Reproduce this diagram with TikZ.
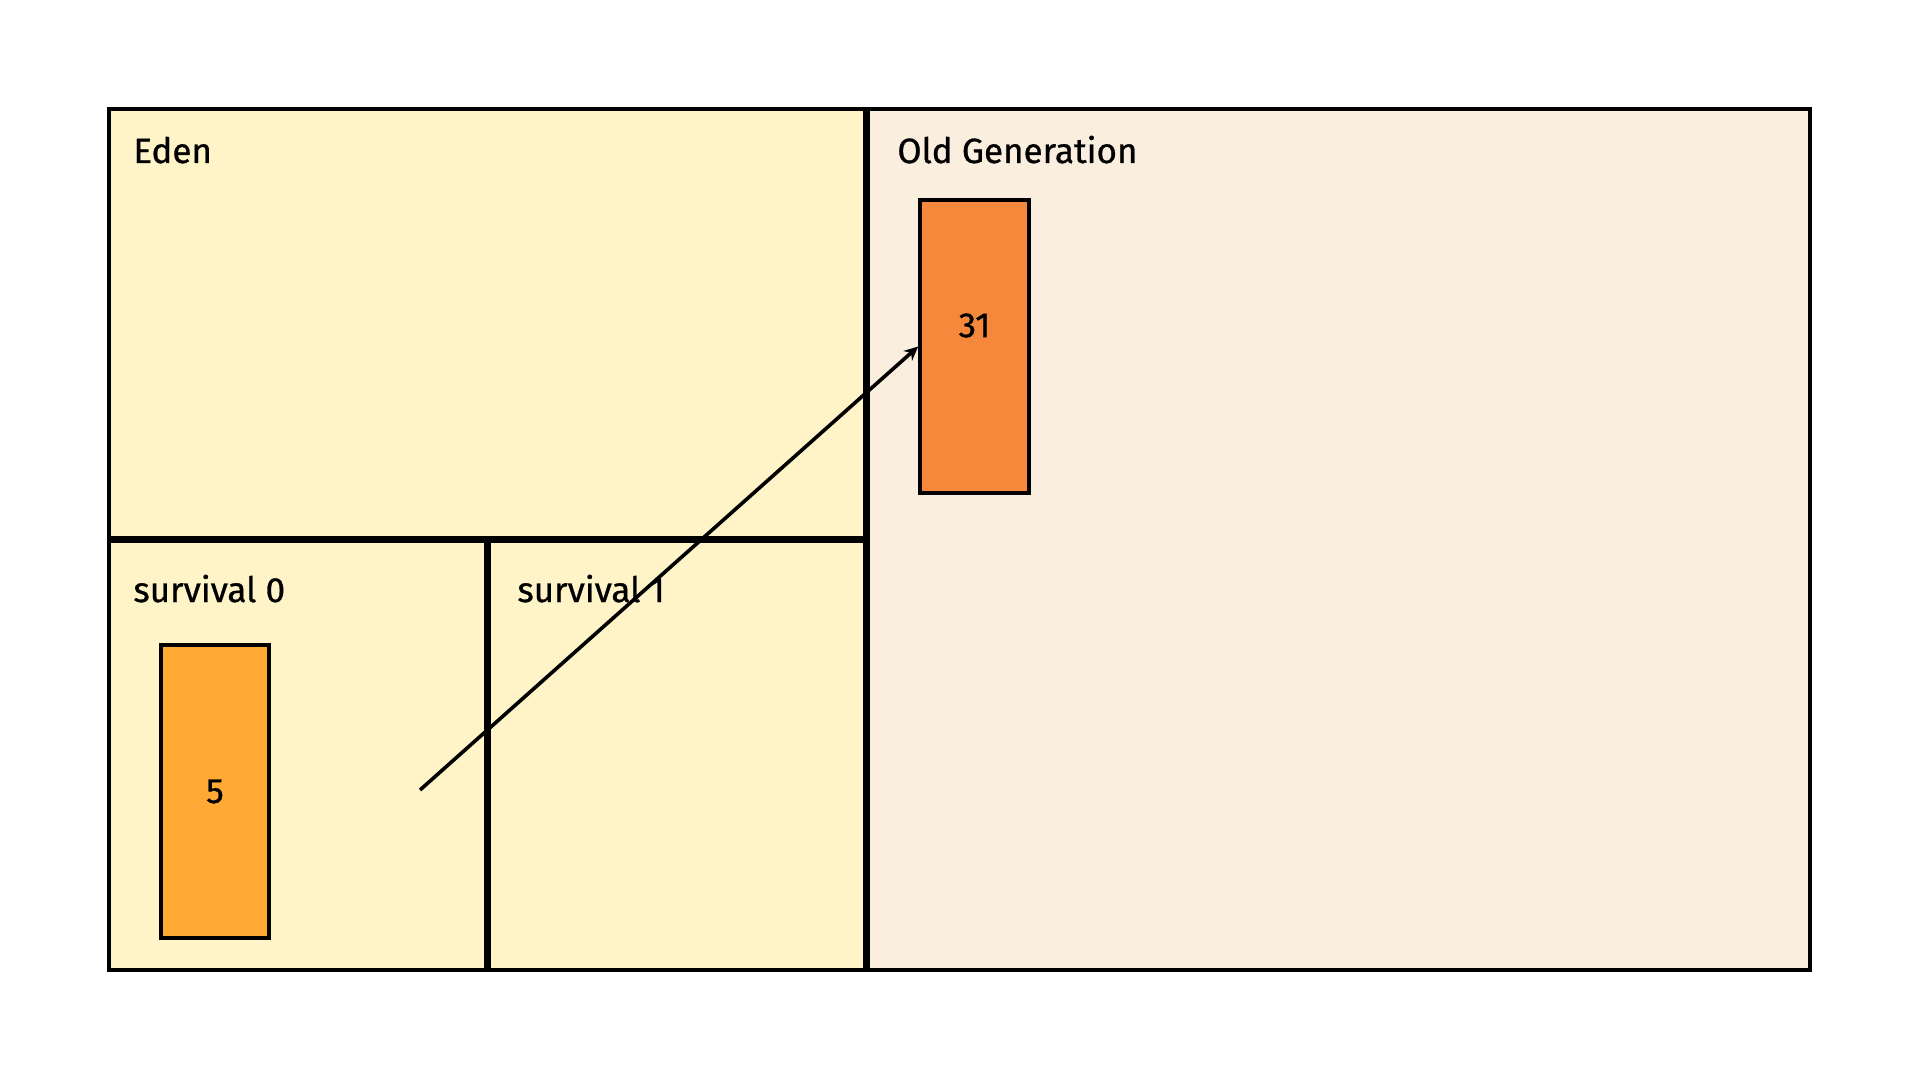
\documentclass[tikz,border=0pt]{standalone}
\usepackage{fontspec}
\setmainfont{Fira Sans}[FakeBold=0.8,AutoFakeBold=0.8]
\usetikzlibrary{arrows.meta}
\definecolor{edenfill}{HTML}{FFF3C8}
\definecolor{oldfill}{HTML}{FAEEDF}
\definecolor{objA}{HTML}{FDA933}
\definecolor{objB}{HTML}{F5883A}
\tikzset{
  region/.style={draw=black, line width=1.8pt, rectangle, inner sep=0pt},
  objbox/.style={draw=black, line width=1.8pt, rectangle, inner sep=0pt, minimum width=54pt, minimum height=146.5pt},
  lbl/.style={anchor=base west, inner sep=0pt, font=\fontsize{17.5}{20}\selectfont\bfseries},
  num/.style={inner sep=0pt, font=\fontsize{17.5}{20}\selectfont\bfseries},
  conn/.style={line width=1.8pt, -{Stealth[length=7pt,width=6.5pt]}}
}
\begin{document}
\begin{tikzpicture}[x=0.5pt,y=-0.5pt]
\useasboundingbox[fill=white] (0,0) rectangle (1920,1080);
\node (eden) [region, fill=edenfill, minimum width=378pt, minimum height=214.5pt] at (487,323.5) {};
\node (old) [region, fill=oldfill, minimum width=471pt, minimum height=430.5pt] at (1339,539.5) {};
\node (s0) [region, fill=edenfill, minimum width=188.5pt, minimum height=214.5pt] at (297.5,755.5) {};
\node (s1) [region, fill=edenfill, minimum width=188pt, minimum height=214.5pt] at (677,755.5) {};
\node (tEden) [lbl] at (133,163) {Eden};
\node (tOld) [lbl] at (897,163) {Old Generation};
\node (tS0) [lbl] at (133,602) {survival 0};
\node (tS1) [lbl] at (517,602) {survival 1};
\node (b5) [objbox, fill=objA] at (215,791.5) {};
\node (n5) [num] at (b5.center) {5};
\node (b31) [objbox, fill=objB, minimum width=54.5pt] at (974.5,346.5) {};
\node (n31) [num] at ([yshift=10.5pt]b31.center) {31};
\coordinate (start) at (420,790);
\draw[conn] (start) -- (b31.west);
\end{tikzpicture}
\end{document}
